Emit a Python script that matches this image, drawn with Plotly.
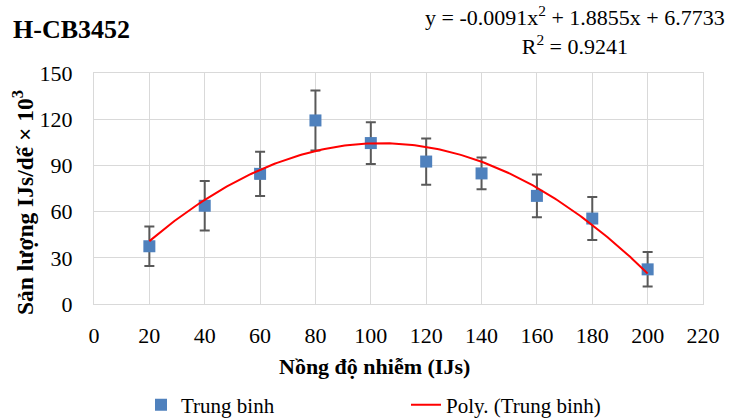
import numpy as np
import plotly.graph_objects as go

# Data
conc = [20, 40, 60, 80, 100, 120, 140, 160, 180, 200]
mean_yield = [37.5, 63.8, 84.5, 119.2, 104.5, 92.5, 84.8, 70.2, 55.5, 22.5]
err = [12.8, 16.0, 14.3, 19.5, 13.6, 15.0, 10.3, 13.9, 14.0, 11.2]
# Trendline coefficients shown in the chart (a*x^2 + b*x + c)
poly_coef = [-0.0091, 1.8855, 6.7733]
x_ticks = list(range(0, 221, 20))
y_ticks = [0, 30, 60, 90, 120, 150]

FONT = "Liberation Serif, Times New Roman, serif"

xf = np.linspace(min(conc), max(conc), 200)
yf = np.polyval(poly_coef, xf)

fig = go.Figure()
fig.add_trace(go.Scatter(
    x=conc, y=mean_yield, mode="markers", name="Trung binh",
    marker=dict(symbol="square", size=12, color="#4f81bd"),
    error_y=dict(type="data", array=err, visible=True, color="#595959",
                 thickness=2, width=5),
))
fig.add_trace(go.Scatter(
    x=xf, y=yf, mode="lines", name="Poly. (Trung binh)",
    line=dict(color="#ff0000", width=2),
))

L, R, T, B = 94, 27, 73, 114
W, H = 730, 418
pw, ph = W - L - R, H - T - B

def px(xp):
    return (xp - L) / pw

def py(yp):
    return (H - B - yp) / ph

fig.update_layout(
    width=W, height=H,
    margin=dict(l=L, r=R, t=T, b=B, autoexpand=False),
    paper_bgcolor="white", plot_bgcolor="white",
    font=dict(family=FONT, size=21, color="#000000"),
    showlegend=True,
    legend=dict(orientation="h", x=px(141), y=py(405), yanchor="middle",
                xanchor="left", entrywidth=220, entrywidthmode="pixels",
                font=dict(family=FONT, size=21)),
    xaxis=dict(range=[0, 220], tickvals=x_ticks, showgrid=True,
               gridcolor="#d9d9d9", gridwidth=1, zeroline=False,
               showline=True, linecolor="#d9d9d9", mirror=True,
               ticks="", ticklabelstandoff=12,
               tickfont=dict(family=FONT, size=22)),
    yaxis=dict(range=[0, 150], tickvals=y_ticks, showgrid=True,
               gridcolor="#d9d9d9", gridwidth=1, zeroline=False,
               showline=True, linecolor="#d9d9d9", mirror=True,
               ticks="", ticklabelstandoff=16,
               tickfont=dict(family=FONT, size=22)),
    annotations=[
        dict(text="<b>H-CB3452</b>", xref="paper", yref="paper",
             x=px(11), y=py(30), xanchor="left", yanchor="middle",
             showarrow=False, font=dict(family=FONT, size=26)),
        dict(text="y = -0.0091x<sup>2</sup> + 1.8855x + 6.7733<br>R<sup>2</sup> = 0.9241",
             xref="paper", yref="paper", x=px(727), y=py(31),
             xanchor="right", yanchor="middle", align="center",
             showarrow=False, font=dict(family=FONT, size=22)),
        dict(text="<b>Nồng độ nhiễm (IJs)</b>", xref="paper", yref="paper",
             x=px(374), y=py(366), xanchor="center", yanchor="middle",
             showarrow=False, font=dict(family=FONT, size=22)),
        dict(text="<b>Sản lượng IJs/dế × 10<sup>3</sup></b>", xref="paper", yref="paper",
             x=px(23), y=py(203), xanchor="center", yanchor="middle",
             textangle=-90, showarrow=False, font=dict(family=FONT, size=23.5)),
    ],
)

fig.write_html("out.html",
               config={"displayModeBar": False},
               post_script="document.body.style.margin='0';document.body.style.overflow='hidden';")
